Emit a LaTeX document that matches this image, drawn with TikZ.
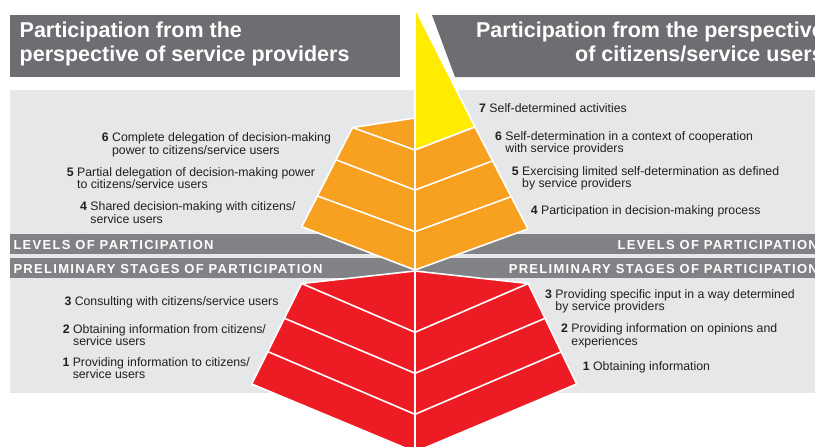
\documentclass[tikz,border=0pt]{standalone}
\usepackage{fontspec}
\setmainfont{Liberation Sans}
\newfontfamily\bandfont[LetterSpace=10]{Liberation Sans Bold}
\usepackage{xcolor}
\usepackage{tikz}

\definecolor{headgray}{HTML}{6D6E71}
\definecolor{bandgray}{HTML}{808285}
\definecolor{panelgray}{HTML}{E6E7E8}
\definecolor{pyrorange}{HTML}{F8A01F}
\definecolor{pyryellow}{HTML}{FFEC00}
\definecolor{pyrred}{HTML}{ED1C24}
\definecolor{ink}{HTML}{231F20}

% number in bold, second line hangs under the text
\newcommand{\lvl}[3]{\begin{tabular}[t]{@{}l@{ }l@{}}\textbf{#1} & #2\\ & #3\end{tabular}}

\begin{document}
\begin{tikzpicture}[x=1pt, y=-1pt,
    pyrface/.style={fill=#1, draw=white, line width=1.6pt, line join=round},
    sepline/.style={draw=white, line width=1.6pt},
    lbl/.style={anchor=base west, inner sep=0pt, text=ink, font=\fontsize{12.3}{12.6}\selectfont},
    bandtxt/.style={inner sep=0pt, text=white, font=\bandfont\fontsize{13}{14}\selectfont},
    headtxt/.style={inner sep=0pt, text=white, font=\bfseries\fontsize{21.5}{24}\selectfont}]
    \useasboundingbox (0,0) rectangle (815,447);

    % Background panel
    \fill[panelgray] (10,90) rectangle (820,393);

    % Headers
    \fill[headgray] (10,15) rectangle (400,77);
    \fill[headgray] (432,15) -- (820,15) -- (820,77) -- (455,77) -- cycle;
    \node[headtxt, anchor=base west, align=left] (hleft) at (19.5,61.7)
        {Participation from the\\perspective of service providers};
    \node[headtxt, anchor=base east, align=right] (hright) at (824,61.7)
        {Participation from the perspective\\of citizens/service users};

    % Bands
    \fill[bandgray] (10,234) rectangle (820,254);
    \fill[bandgray] (10,258) rectangle (820,278);

    % Upper pyramid: yellow top and orange faces
    \draw[pyrface=pyryellow] (415,8) -- (475,127) -- (415,150) -- cycle;
    \draw[pyrface=pyrorange] (352.5,127.5) -- (415,118) -- (415,270) -- (301.7,226.7) -- cycle;
    \draw[pyrface=pyrorange] (415,150) -- (475,127) -- (528,229) -- (415,270) -- cycle;
    \draw[sepline] (352.5,127.5) -- (415,150);
    \draw[sepline] (336.5,160) -- (415,190) -- (493,160.7);
    \draw[sepline] (317.5,196) -- (415,231.7) -- (511,196.7);

    % Lower pyramid: red faces
    \draw[pyrface=pyrred] (301.7,283.5) -- (415,271) -- (415,452) -- (251.7,384) -- cycle;
    \draw[pyrface=pyrred] (415,271) -- (528.3,283.5) -- (576.7,384) -- (415,452) -- cycle;
    \draw[sepline] (301.7,283.5) -- (415,332.3) -- (528.3,283.5);
    \draw[sepline] (284.5,318.3) -- (415,373.3) -- (545,318.3);
    \draw[sepline] (268,351.7) -- (415,414.3) -- (561.5,351.7);

    % Band labels
    \node[bandtxt, anchor=base west] (levl) at (13.3,249.5) {LEVELS OF PARTICIPATION};
    \node[bandtxt, anchor=base west] (prel) at (13.3,273.5) {PRELIMINARY STAGES OF PARTICIPATION};
    \node[bandtxt, anchor=base east] (levr) at (818,249.5) {LEVELS OF PARTICIPATION};
    \node[bandtxt, anchor=base east] (prer) at (818,273.5) {PRELIMINARY STAGES OF PARTICIPATION};

    % Service providers (left)
    \node[lbl] (lsix) at (101.7,141.7) {\lvl{6}{Complete delegation of decision-making}{power to citizens/service users}};
    \node[lbl] (lfive) at (66.7,176) {\lvl{5}{Partial delegation of decision-making power}{to citizens/service users}};
    \node[lbl] (lfour) at (80,210.7) {\lvl{4}{Shared decision-making with citizens/}{service users}};
    \node[lbl] (lthree) at (64.3,305) {\lvl{3}{Consulting with citizens/service users}{}};
    \node[lbl] (ltwo) at (62.7,333.3) {\lvl{2}{Obtaining information from citizens/}{service users}};
    \node[lbl] (lone) at (62.3,366) {\lvl{1}{Providing information to citizens/}{service users}};

    % Citizens/service users (right)
    \node[lbl] (rseven) at (479,112.7) {\lvl{7}{Self-determined activities}{}};
    \node[lbl] (rsix) at (495,140) {\lvl{6}{Self-determination in a context of cooperation}{with service providers}};
    \node[lbl] (rfive) at (511.7,175) {\lvl{5}{Exercising limited self-determination as defined}{by service providers}};
    \node[lbl] (rfour) at (530.7,214) {\lvl{4}{Participation in decision-making process}{}};
    \node[lbl] (rthree) at (545,298.3) {\lvl{3}{Providing specific input in a way determined}{by service providers}};
    \node[lbl] (rtwo) at (561,332.7) {\lvl{2}{Providing information on opinions and}{experiences}};
    \node[lbl] (rone) at (582.7,370.7) {\lvl{1}{Obtaining information}{}};

\end{tikzpicture}
\end{document}
